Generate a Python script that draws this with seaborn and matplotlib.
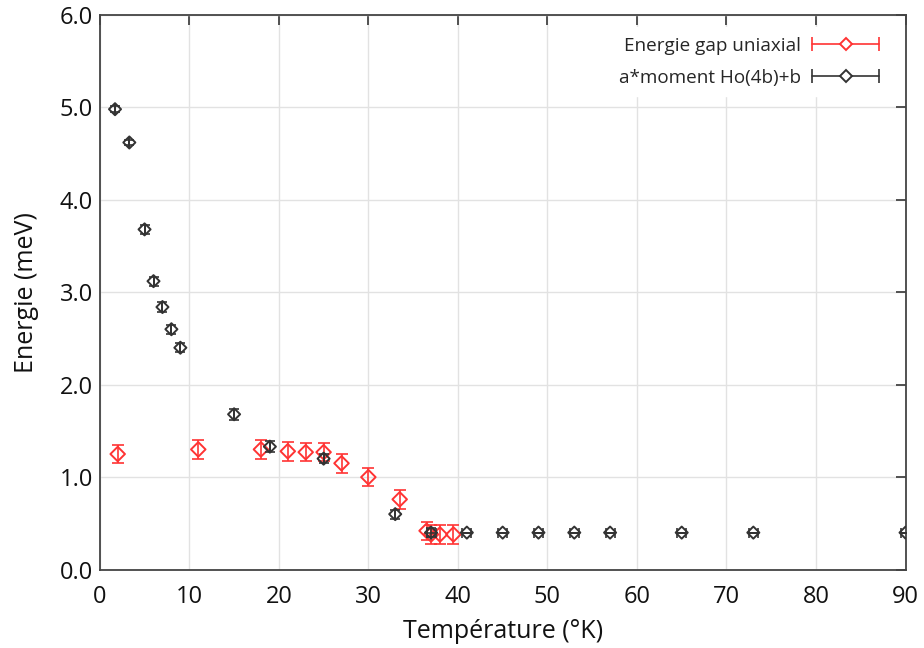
import matplotlib
matplotlib.use("Agg")
import matplotlib.pyplot as plt
import seaborn as sns
import pandas as pd
import numpy as np
from matplotlib.lines import Line2D
from matplotlib.legend_handler import HandlerBase

# ---- data ----
gap_T = [2, 11, 18, 21, 23, 25, 27, 30, 33.5, 36.5, 37, 38, 39.5]
gap_E = [1.25, 1.30, 1.30, 1.28, 1.27, 1.27, 1.15, 1.00, 0.76, 0.42, 0.38, 0.38, 0.38]
gap_err = [0.10, 0.10, 0.10, 0.10, 0.10, 0.10, 0.10, 0.10, 0.10, 0.10, 0.10, 0.10, 0.10]

mom_T = [1.7, 3.3, 5, 6, 7, 8, 9, 15, 19, 25, 33, 37, 41, 45, 49, 53, 57, 65, 73, 90]
mom_E = [4.98, 4.62, 3.68, 3.12, 2.84, 2.60, 2.40, 1.68, 1.33, 1.20, 0.60, 0.40,
         0.40, 0.40, 0.40, 0.40, 0.40, 0.40, 0.40, 0.40]
mom_yerr = [0.03, 0.03, 0.05, 0.05, 0.05, 0.05, 0.05, 0.06, 0.06, 0.05, 0.05, 0.05,
            0.0, 0.0, 0.0, 0.0, 0.0, 0.0, 0.0, 0.0]
mom_xerr = [0, 0, 0, 0, 0, 0, 0, 0, 0, 0, 0, 0.5,
            0.5, 0.5, 0.5, 0.5, 0.5, 0.5, 0.5, 0.5]

labels = ["Energie gap uniaxial", "a*moment Ho(4b)+b"]
xticks = list(range(0, 100, 10))
yticks = [0.0, 1.0, 2.0, 3.0, 4.0, 5.0, 6.0]

RED = "#ff3333"
BLK = "#333333"

sns.set_theme(style="white")
plt.rcParams["font.family"] = ["Open Sans", "DejaVu Sans"]

fig = plt.figure(figsize=(9.24, 6.48), dpi=100)
ax = fig.add_axes([0.108, 0.121, 0.872, 0.856])

df_gap = pd.DataFrame({"T": gap_T, "E": gap_E})
df_mom = pd.DataFrame({"T": mom_T, "E": mom_E})

# red series
ax.errorbar(gap_T, gap_E, yerr=gap_err, fmt="none", ecolor=RED, elinewidth=1.2,
            capsize=4.5, capthick=1.2, zorder=3)
sns.scatterplot(data=df_gap, x="T", y="E", ax=ax, marker="D", s=55,
                facecolor="none", edgecolor=RED, linewidth=1.4, zorder=4)

# black series
ax.errorbar(mom_T, mom_E, yerr=mom_yerr, xerr=mom_xerr, fmt="none", ecolor=BLK,
            elinewidth=1.2, capsize=3.5, capthick=1.2, zorder=5)
sns.scatterplot(data=df_mom, x="T", y="E", ax=ax, marker="D", s=38,
                facecolor="none", edgecolor=BLK, linewidth=1.4, zorder=6)

ax.set_xlim(0, 90)
ax.set_ylim(0, 6)
ax.set_xticks(xticks)
ax.set_yticks(yticks)
ax.set_yticklabels([f"{v:.1f}" for v in yticks])
ax.grid(True, color="#e2e2e2", linewidth=1.0)
ax.set_axisbelow(True)
for s in ax.spines.values():
    s.set_visible(True)
    s.set_color("#444444")
    s.set_linewidth(1.3)
ax.tick_params(direction="in", length=7, width=1.3, color="#444444",
               top=True, right=True, labelsize=17, labelcolor="#111111")
ax.tick_params(axis="x", pad=11)
ax.tick_params(axis="y", pad=5)
ax.set_xlabel("Température (°K)", fontsize=18, labelpad=7, color="#111111")
ax.set_ylabel("Energie (meV)", fontsize=18, labelpad=15, color="#111111")


class ErrHandler(HandlerBase):
    def create_artists(self, legend, orig_handle, xdescent, ydescent, width,
                       height, fontsize, trans):
        c = orig_handle.get_color()
        y = height / 2 - ydescent
        x0, x1 = -xdescent, width - xdescent
        ln = Line2D([x0, x1], [y, y], color=c, lw=1.2, transform=trans)
        caps = Line2D([x0, x1], [y, y], ls="none", marker="|", ms=10,
                      mew=1.2, color=c, transform=trans)
        d = Line2D([(x0 + x1) / 2], [y], ls="none", marker="D", ms=6.5,
                   mfc="white", mec=c, mew=1.4, transform=trans)
        return [ln, caps, d]


h1 = Line2D([], [], color=RED)
h2 = Line2D([], [], color=BLK)
leg = ax.legend([h1, h2], labels, loc="upper right", bbox_to_anchor=(0.99, 0.995),
                markerfirst=False, frameon=True, fontsize=13.6, handlelength=3.5,
                handletextpad=0.6, labelspacing=0.75, borderpad=0.5,
                handler_map={Line2D: ErrHandler()})
leg.get_frame().set_facecolor("white")
leg.get_frame().set_edgecolor("white")
leg.get_frame().set_alpha(1.0)
leg.set_zorder(10)

fig.savefig("out.png", dpi=100, facecolor="white")
